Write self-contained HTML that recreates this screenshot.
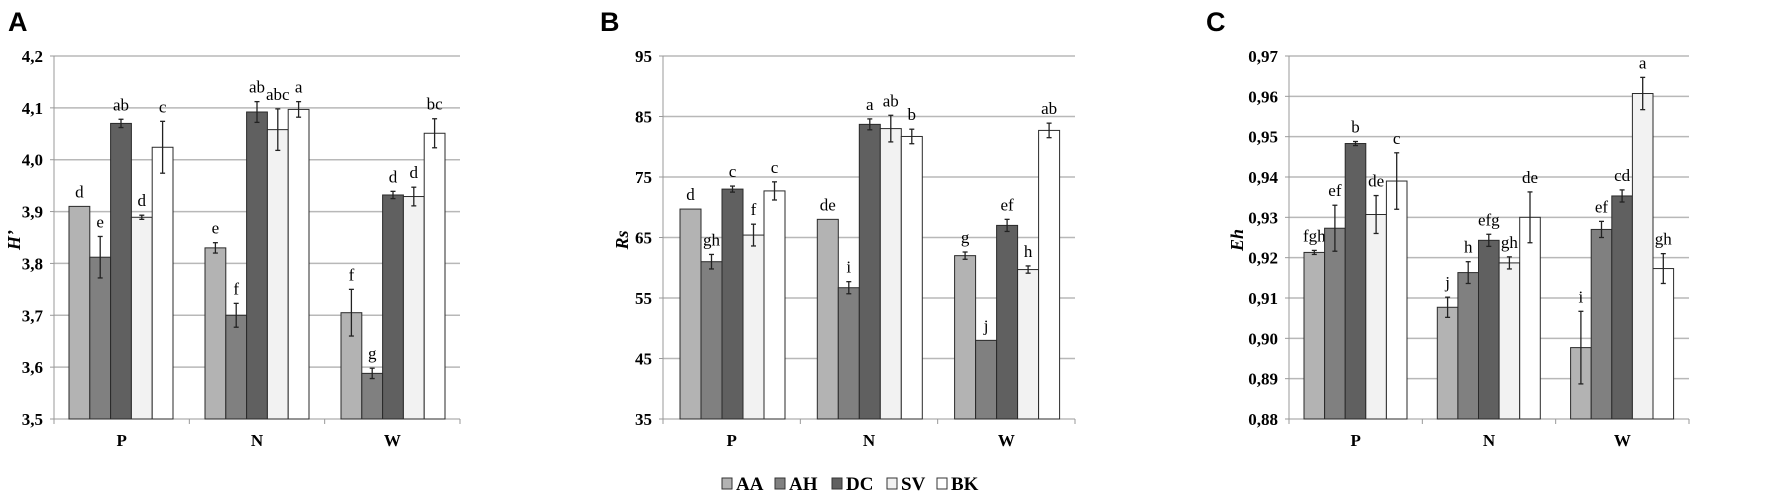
<!DOCTYPE html>
<html><head><meta charset="utf-8"><style>
body{margin:0;background:#fff;}
svg{display:block;}
</style></head><body>
<svg id="s" width="1772" height="498" xmlns="http://www.w3.org/2000/svg" font-family="Liberation Serif, serif"></svg>
<script>
const cols=['#b3b3b3','#808080','#606060','#f2f2f2','#ffffff'];
const panels=[
{L:'A',lx:8,x0:54,x1:460,bx:69,bw:20.8,gw:136,min:3.5,max:4.2,step:0.1,fmt:v=>v.toFixed(1).replace('.',','),tlx:43,yl:"H’",ylx:20,
d:[[[3.91,0,'d'],[3.812,.04,'e'],[4.07,.008,'ab'],[3.889,.004,'d'],[4.024,.05,'c']],
[[3.83,.01,'e'],[3.70,.023,'f'],[4.092,.02,'ab'],[4.058,.04,'abc'],[4.097,.015,'a']],
[[3.705,.045,'f'],[3.588,.01,'g'],[3.932,.007,'d'],[3.929,.018,'d'],[4.051,.028,'bc']]]},
{L:'B',lx:600,x0:663,x1:1075,bx:680,bw:21,gw:137.3,min:35,max:95,step:10,fmt:v=>v.toFixed(0),tlx:652,yl:"Rs",ylx:628,
d:[[[69.7,0,'d'],[61,1.2,'gh'],[73,0.5,'c'],[65.4,1.8,'f'],[72.7,1.5,'c']],
[[68,0,'de'],[56.7,1,'i'],[83.7,0.9,'a'],[83,2.2,'ab'],[81.7,1.2,'b']],
[[62,0.6,'g'],[48,0,'j'],[67,1,'ef'],[59.7,0.6,'h'],[82.7,1.2,'ab']]]},
{L:'C',lx:1206,x0:1289,x1:1689,bx:1304,bw:20.6,gw:133.3,min:0.88,max:0.97,step:0.01,fmt:v=>v.toFixed(2).replace('.',','),tlx:1278,yl:"Eh",ylx:1243,
d:[[[.9213,.0005,'fgh'],[.9273,.0057,'ef'],[.9483,.0005,'b'],[.9307,.0047,'de'],[.939,.007,'c']],
[[.9077,.0025,'j'],[.9163,.0027,'h'],[.9243,.0015,'efg'],[.9187,.0015,'gh'],[.930,.0063,'de']],
[[.8977,.009,'i'],[.927,.002,'ef'],[.9353,.0015,'cd'],[.9607,.004,'a'],[.9173,.0037,'gh']]]}
];
let h='';
const yT=56,yB=419;
for(const p of panels){
 const Y=v=>yB-(v-p.min)/(p.max-p.min)*(yB-yT);
 h+=`<text x="${p.lx}" y="31" font-family="Liberation Sans, sans-serif" font-weight="bold" font-size="27">${p.L}</text>`;
 const n=Math.round((p.max-p.min)/p.step);
 for(let i=0;i<=n;i++){const v=p.min+i*p.step,y=Y(v);
  if(i>0)h+=`<line x1="${p.x0}" x2="${p.x1}" y1="${y}" y2="${y}" stroke="#b8b8b8" stroke-width="1.5"/>`;
  h+=`<line x1="${p.x0-4}" x2="${p.x0}" y1="${y}" y2="${y}" stroke="#999"/>`;
  h+=`<text x="${p.tlx}" y="${y+6}" text-anchor="end" font-weight="bold" font-size="17">${p.fmt(v)}</text>`;}
 h+=`<line x1="${p.x0}" x2="${p.x0}" y1="${yT}" y2="${yB}" stroke="#999"/>`;
 h+=`<line x1="${p.x0}" x2="${p.x1}" y1="${yB}" y2="${yB}" stroke="#999"/>`;
 for(let g=0;g<=3;g++){const x=p.x0+g*(p.x1-p.x0)/3;h+=`<line x1="${x}" x2="${x}" y1="${yB}" y2="${yB+5}" stroke="#999"/>`;}
 h+=`<text transform="translate(${p.ylx},240) rotate(-90)" text-anchor="middle" font-weight="bold" font-style="italic" font-size="18">${p.yl}</text>`;
 ['P','N','W'].forEach((c,g)=>{h+=`<text x="${p.x0+(g+0.5)*(p.x1-p.x0)/3}" y="446" text-anchor="middle" font-weight="bold" font-size="17">${c}</text>`;});
 p.d.forEach((grp,g)=>{grp.forEach(([v,e,l],k)=>{
  const x=p.bx+g*p.gw+k*p.bw,y=Y(v);
  h+=`<rect x="${x}" y="${y}" width="${p.bw}" height="${yB-y}" fill="${cols[k]}" stroke="#2a2a2a" stroke-width="1"/>`;
  const cx=x+p.bw/2;
  if(e>0){const a=Y(v+e),b=Y(v-e);
   h+=`<line x1="${cx}" x2="${cx}" y1="${a}" y2="${b}" stroke="#222" stroke-width="1.3"/><line x1="${cx-2.5}" x2="${cx+2.5}" y1="${a}" y2="${a}" stroke="#222" stroke-width="1.3"/><line x1="${cx-2.5}" x2="${cx+2.5}" y1="${b}" y2="${b}" stroke="#222" stroke-width="1.3"/>`;}
  const top=Math.min(Y(v+e),y);
  h+=`<text x="${cx}" y="${top-9}" text-anchor="middle" font-size="17">${l}</text>`;
 });});
}
const leg=[['AA',722],['AH',775],['DC',832],['SV',887],['BK',937]];
leg.forEach(([t,x],k)=>{h+=`<rect x="${x}" y="478" width="10" height="11" fill="${cols[k]}" stroke="#333"/><text x="${x+14}" y="490" font-weight="bold" font-size="19">${t}</text>`;});
document.getElementById('s').innerHTML=h;
</script>
</body></html>
